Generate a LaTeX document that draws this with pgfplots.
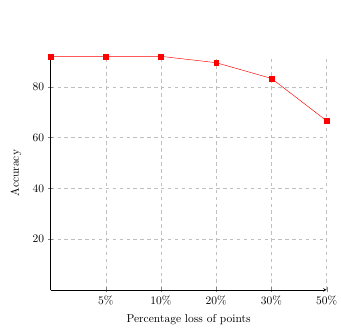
\documentclass[border=0pt]{standalone}
\usepackage{pgfplots}
\pgfplotsset{compat=1.18}
\begin{document}
\begin{tikzpicture}
\begin{axis}[
  scale only axis,
  width=240pt, height=203pt,
  axis lines=left,
  xmin=0, xmax=5, ymin=0, ymax=92,
  xtick={1,2,3,4,5},
  xticklabels={5\%,10\%,20\%,30\%,50\%},
  ytick={20,40,60,80},
  grid=major,
  grid style={dashed, gray!50},
  xlabel={Percentage loss of points},
  xlabel style={yshift=-1pt},
  ylabel={Accuracy},
  ylabel style={yshift=3pt},
  clip=false,
]
\addplot[red, mark=square*, mark size=2.1pt] coordinates {
  (0,92) (1,92) (2,92) (3,89.5) (4,83.3) (5,66.6)
};
\end{axis}
\path (current axis.north west) ++(-44pt,49pt);
\end{tikzpicture}
\end{document}
